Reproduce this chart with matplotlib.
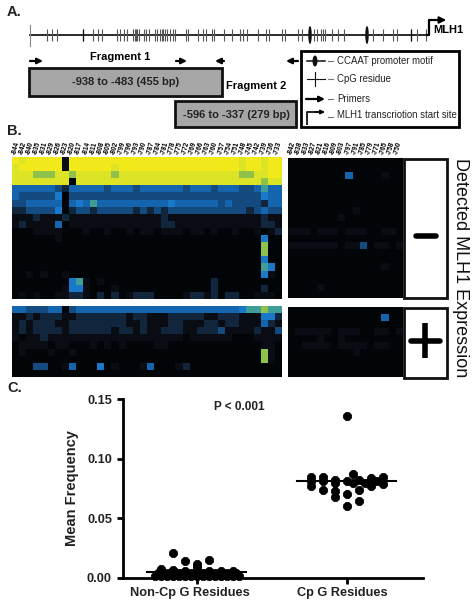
import numpy as np
import matplotlib
matplotlib.use("Agg")
import matplotlib.pyplot as plt
from matplotlib.colors import ListedColormap
from matplotlib.patches import Rectangle, Ellipse

plt.rcParams['font.family'] = ['Liberation Sans', 'DejaVu Sans']

W, H = 474, 610

# panel A, residues along the promoter
cpg_sites = [47, 52, 57, 83, 93, 98, 102, 117, 120, 124, 127, 133, 135, 136, 137, 139, 144, 146, 149,
             155, 157, 160, 162, 163, 165, 167, 170, 173, 175, 186, 188, 198, 203, 206, 212, 214, 224,
             232, 240, 243, 247, 258, 266, 269, 282, 285, 298, 302, 314, 317, 321, 323, 325, 332, 338,
             344, 373, 383, 393, 397, 411, 417, 426]
ccaat_sites = [310, 367]

# panel B, colour level per residue (0 black ... 9 yellow)
level_colors = ['#020507', '#090d13', '#11263d', '#134a80', '#1565ae',
                '#1a78c8', '#3f9c96', '#8fc24a', '#dde325', '#f2e91a']

noncpg_top = [
    "9899999199 9999999999 9999999999 99899899",
    "8999999199 9999899999 9999999999 99899899",
    "8887778878 8888788888 8888888888 88778899",
    "8888888808 8888888888 8888888888 88888788",
    "4444443244 4443444344 4444344434 44334644",
    "4333335033 3333333333 3333333333 33333544",
    "3344444045 4644444444 4454444443 43333244",
    "2233335023 3233333232 3233333333 33323433",
    "1112111211 1111111111 1211111111 11111211",
    "1211114011 1111111111 1221111111 11111221",
    "0001111000 1001001011 0111011010 01001012",
    "0000001000 0000000000 0000000000 00000500",
    "0000000000 0000000000 0000000000 00000700",
    "0000000000 0000000000 0000000000 00000700",
    "0000000000 0000000000 0000000000 00000500",
    "0000000000 0000000000 0000000000 00000650",
    "0010100100 0000000000 0000000000 00000510",
    "0000000056 1010000000 0000000020 00000000",
    "0000000155 1000100000 0000000020 00000200",
    "0101001122 1020201222 0000122120 22001110",
]
noncpg_bottom = [
    "4433344034 4444444444 4444444444 44566766",
    "1121222112 2222221221 1122222112 22111552",
    "1212221122 2222221121 1122111221 22111421",
    "1212222122 2222122121 1222112223 11112113",
    "1011211111 1111111111 1111011111 10001111",
    "0111101100 0101010000 1100000000 00000110",
    "0100010010 0000000000 0000000000 00000710",
    "0000000000 0000000000 0000000000 00000710",
    "0003300140 0050100014 0001200000 00000000",
    "0000000000 0000000000 0000000000 00000000",
]
cpg_top = [
    "0000000000000000", "0000000000000000", "0000000040000100", "0000000000000000",
    "0000000000000000", "0000000000000000", "0000000000000000", "0000000001000000",
    "0000000100000000", "0000000000000000", "1110111011100110", "0000000000000000",
    "1111111011301101", "0000000000000000", "0000000000000000", "0000000000000100",
    "0000000000000000", "0000000000000000", "0000100000000000", "0000000000000000",
]
cpg_bottom = [
    "0000000000000000", "0000000000000400", "0000000000000000", "0111110111001101",
    "0000100100000000", "0011110111101100", "0000000001000000", "0000000000000000",
    "0000000000000000", "0000000000000000",
]

noncpg_labels = ['-844', '-842', '-840', '-835', '-831', '-829', '-826', '-823', '-820', '-817',
                 '-814', '-811', '-808', '-805', '-802', '-799', '-796', '-793', '-790', '-787',
                 '-784', '-781', '-778', '-775', '-772', '-769', '-766', '-763', '-760', '-757',
                 '-754', '-751', '-748', '-745', '-742', '-739', '-736', '-733']
cpg_labels = ['-842', '-838', '-833', '-827', '-821', '-816', '-809', '-803', '-797', '-791',
              '-785', '-779', '-771', '-765', '-758', '-750']

# panel C
noncpg_x = [0.722, 0.762, 0.802, 0.842, 0.882, 0.922, 0.962, 1.002, 1.042, 1.082, 1.122, 1.162, 1.202,
            1.242, 1.282, 0.762, 0.842, 0.922, 1.002, 1.082, 1.162, 1.242, 1.002, 1.002, 0.842, 0.922, 1.082,
            0.742, 0.802, 0.882, 0.962, 1.042, 1.122, 1.202, 1.262]
noncpg_y = [0.002, 0.002, 0.002, 0.002, 0.002, 0.002, 0.002, 0.002, 0.002, 0.002, 0.002, 0.002, 0.002,
            0.002, 0.002, 0.0073, 0.0065, 0.006, 0.0075, 0.006, 0.006, 0.006, 0.012, 0.010, 0.021, 0.014, 0.015,
            0.004, 0.0045, 0.0045, 0.0045, 0.0045, 0.0045, 0.0045, 0.004]
cpg_x = [2.0, 2.04, 1.762, 1.842, 2.242, 2.162, 1.922, 2.0, 2.082, 1.762, 1.842, 1.922, 2.162, 2.122,
         2.242, 2.202, 2.04, 1.762, 1.842, 1.922, 2.082, 2.162, 2.0, 1.922, 2.082, 2.0]
cpg_y = [0.136, 0.0875, 0.085, 0.085, 0.085, 0.084, 0.0825, 0.081, 0.082, 0.081, 0.081, 0.080, 0.081, 0.080,
         0.079, 0.081, 0.080, 0.077, 0.074, 0.0725, 0.074, 0.077, 0.0705, 0.0675, 0.0645, 0.0605]
noncpg_median = 0.005
cpg_median = 0.081


def px_axes(fig, left, top, right, bottom):
    return fig.add_axes([left / W, 1 - bottom / H, (right - left) / W, (bottom - top) / H])


def parse(rows):
    return np.array([[int(c) for c in r.replace(" ", "")] for r in rows])


fig = plt.figure(figsize=(W / 100, H / 100), dpi=100)
cmap = ListedColormap(level_colors)

for rows, box in [(noncpg_top, (12, 157, 282, 299)), (noncpg_bottom, (12, 306, 282, 377)),
                  (cpg_top, (288, 158, 402, 298)), (cpg_bottom, (288, 307, 402, 377))]:
    hm = px_axes(fig, *box)
    hm.imshow(parse(rows), cmap=cmap, vmin=-0.5, vmax=9.5, aspect='auto', interpolation='nearest')
    hm.axis('off')

# overlay in pixel coords for schematic, labels and boxes
ov = fig.add_axes([0, 0, 1, 1], zorder=5)
ov.set_xlim(0, W)
ov.set_ylim(H, 0)
ov.axis('off')
ov.patch.set_alpha(0)

for txt, y in [('A.', 12), ('B.', 131), ('C.', 388)]:
    ov.text(7, y, txt, fontsize=10.5, fontweight='bold', va='center', color='#222222')

ov.plot([30, 427], [35, 35], color='#1a1a1a', lw=1.3)
ov.plot([30, 30], [25, 46], color='#888888', lw=0.8)
ov.vlines(cpg_sites, 29, 41, color='#555555', lw=0.8)
ov.vlines([83, 411], 29, 41, color='#111111', lw=0.9)
for x in ccaat_sites:
    ov.add_patch(Ellipse((x, 35), 3.5, 18, color='#111111', lw=0))
ov.plot([427, 429, 429, 441], [35, 35, 20, 20], color='black', lw=1.6)
ov.annotate('', xy=(449, 20), xytext=(438, 20), arrowprops=dict(arrowstyle='-|>', color='black', lw=1.4))
ov.text(433, 30, 'MLH1', fontsize=8, fontweight='bold', va='center')

for x0, x1 in [(30, 43), (176, 187), (224, 215), (298, 286)]:
    ov.annotate('', xy=(x1, 61), xytext=(x0, 61),
                arrowprops=dict(arrowstyle='-|>', color='black', lw=1.6, shrinkA=0, shrinkB=0, mutation_scale=8))

ov.add_patch(Rectangle((29.5, 68), 193, 28, fc='#a6a6a6', ec='#111111', lw=2))
ov.add_patch(Rectangle((175.5, 100.5), 121, 26, fc='#a6a6a6', ec='#111111', lw=2))
ov.text(120, 57, 'Fragment 1', fontsize=8, fontweight='bold', ha='center', va='center')
ov.text(256, 86, 'Fragment 2', fontsize=8, fontweight='bold', ha='center', va='center')
ov.text(126, 82, '-938 to -483 (455 bp)', fontsize=8, fontweight='bold', ha='center', va='center', color='#222222')
ov.text(236, 115, '-596 to -337 (279 bp)', fontsize=8, fontweight='bold', ha='center', va='center', color='#222222')

# legend of panel A
ov.add_patch(Rectangle((301, 51), 158, 75.5, fc='white', ec='black', lw=2))
ov.plot([307, 325], [61, 61], color='#111111', lw=1.1)
ov.add_patch(Ellipse((315, 61), 5, 11, color='#111111', lw=0))
ov.plot([307, 325], [79, 79], color='#111111', lw=0.8)
ov.plot([315, 315], [72, 86], color='#111111', lw=0.8)
ov.annotate('', xy=(325, 99), xytext=(306, 99),
            arrowprops=dict(arrowstyle='-|>', color='black', lw=1.6, shrinkA=0, shrinkB=0, mutation_scale=8))
ov.plot([307, 307, 318], [124, 112, 112], color='#222222', lw=1.4)
ov.annotate('', xy=(325, 112), xytext=(316, 112),
            arrowprops=dict(arrowstyle='-|>', color='black', lw=1.2, shrinkA=0, shrinkB=0, mutation_scale=6))
for txt, y, dash_x in [('CCAAT promoter motif', 61, 331), ('CpG residue', 79, 331),
                       ('Primers', 99, 331), ('MLH1 transcriotion start site', 115, 331)]:
    ov.plot([dash_x - 3, dash_x + 2], [y + (2 if y == 115 else 0)] * 2, color='#777777', lw=0.8)
    ov.text(337, y, txt, fontsize=6.9, va='center', color='#222222')

# residue labels above heatmaps
for labels, x0, step in [(noncpg_labels, 12, 270 / 38), (cpg_labels, 288, 114 / 16)]:
    for i, lab in enumerate(labels):
        ov.text(x0 + step * (i + 0.5), 148, lab, fontsize=4.8, fontweight='bold', rotation=75,
                ha='center', va='center', color='black')

# expression boxes
ov.add_patch(Rectangle((404, 158.5), 43, 139.5, fc='white', ec='#111111', lw=2))
ov.add_patch(Rectangle((404, 307.5), 43, 70, fc='white', ec='#111111', lw=2))
ov.plot([416, 436], [236, 236], color='black', lw=4, solid_capstyle='round')
ov.plot([411, 440], [341, 341], color='black', lw=4, solid_capstyle='round')
ov.plot([425, 425], [323, 358], color='black', lw=4, solid_capstyle='butt')
ov.text(461, 268, 'Detected MLH1 Expression', fontsize=13, rotation=-90, ha='center', va='center',
        color='#111111')

# panel C
ax = px_axes(fig, 123, 399, 423, 578)
ax.scatter(noncpg_x, noncpg_y, s=33, marker='8', color='black', clip_on=False, zorder=3)
ax.scatter(cpg_x, cpg_y, s=33, marker='8', color='black', clip_on=False, zorder=3)
ax.plot([0.67, 1.33], [noncpg_median, noncpg_median], color='black', lw=1.5, zorder=4)
ax.plot([1.67, 2.33], [cpg_median, cpg_median], color='black', lw=1.5, zorder=4)
ax.set_xlim(0.507, 2.507)
ax.set_ylim(0, 0.15)
ax.set_xticks([1, 2])
ax.set_xticklabels([])
ax.set_yticks([0, 0.05, 0.10, 0.15])
ax.set_yticklabels(['0.00', '0.05', '0.10', '0.15'], fontsize=9.2, fontweight='bold', color='#222222')
ax.tick_params(width=2, length=4, pad=4)
ax.spines['top'].set_visible(False)
ax.spines['right'].set_visible(False)
ax.spines['left'].set_linewidth(2)
ax.spines['bottom'].set_linewidth(2)
ax.patch.set_alpha(0)

ov.text(239, 407, 'P < 0.001', fontsize=8.5, fontweight='bold', ha='center', va='center', color='#222222')
ov.text(72, 488, 'Mean Frequency', fontsize=10.5, fontweight='bold', rotation=90, ha='center', va='center',
        color='#222222')
ov.text(190, 593, 'Non-Cp G Residues', fontsize=9.2, fontweight='bold', ha='center', va='center', color='#222222')
ov.text(342, 593, 'Cp G Residues', fontsize=9.2, fontweight='bold', ha='center', va='center', color='#222222')

fig.savefig('out.png', dpi=100)
